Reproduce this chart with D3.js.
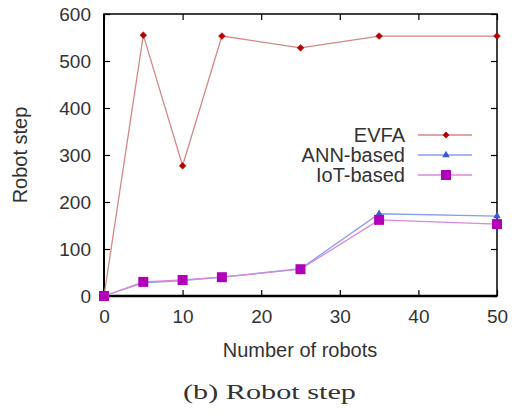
<!DOCTYPE html>
<html><head><meta charset="utf-8">
<script src="https://cdn.jsdelivr.net/npm/d3@7"></script>
<style>body{margin:0;background:#fff}svg{display:block}</style>
</head><body>
<svg id="c" width="513" height="412"></svg>
<script>
const robots = [0, 5, 10, 15, 25, 35, 50];
const evfa = [0, 555, 277, 553, 528, 553, 553];
const ann = [0, 28, 33, 40, 58, 175, 170];
const iot = [0, 30, 34, 40, 57, 162, 153];
const seriesNames = ["EVFA", "ANN-based", "IoT-based"];
const xTicks = [0, 10, 20, 30, 40, 50];
const yTicks = [0, 100, 200, 300, 400, 500, 600];

const svg = d3.select("#c");
const x = d3.scaleLinear().domain([0, 50]).range([104, 497]);
const y = d3.scaleLinear().domain([0, 600]).range([296, 14]);
const font = "'Liberation Sans', Arial, sans-serif";

const styles = [
  {line: "#d48888", mark: "#b40000", shape: d3.symbolDiamond2, size: 30},
  {line: "#8a9cf0", mark: "#3a58d8", shape: d3.symbolTriangle, size: 24},
  {line: "#d88ad8", mark: "#b000b8", shape: d3.symbolSquare, size: 100}
];
const data = [evfa, ann, iot];

// frame
svg.append("rect").attr("x", x(0)).attr("y", y(600)).attr("width", x(50)-x(0)).attr("height", y(0)-y(600))
  .attr("fill", "none").attr("stroke", "#000").attr("stroke-width", 1.5);
svg.append("line").attr("x1", x(0)).attr("x2", x(50)).attr("y1", y(0)).attr("y2", y(0)).attr("stroke", "#000").attr("stroke-width", 2.5);
svg.append("line").attr("x1", x(0)).attr("x2", x(0)).attr("y1", y(0)).attr("y2", y(600)).attr("stroke", "#000").attr("stroke-width", 2);

// axes
const ax = (g) => g.selectAll(".domain").remove();
svg.append("g").attr("transform", `translate(0,${y(0)})`)
  .call(d3.axisBottom(x).tickValues(xTicks).tickSize(-6).tickPadding(14).tickFormat(d3.format("d")))
  .call(ax).call(g => { g.selectAll("line").attr("stroke", "#000").attr("stroke-width", 1.2);
    g.selectAll("text").attr("font-family", font).attr("font-size", 19).attr("fill", "#333"); });
svg.append("g").attr("transform", `translate(0,${y(600)})`)
  .call(d3.axisTop(x).tickValues(xTicks).tickSize(-6).tickFormat(""))
  .call(ax).call(g => g.selectAll("line").attr("stroke", "#000").attr("stroke-width", 1.2));
svg.append("g").attr("transform", `translate(${x(0)},0)`)
  .call(d3.axisLeft(y).tickValues(yTicks).tickSize(-6).tickPadding(13).tickFormat(d3.format("d")))
  .call(ax).call(g => { g.selectAll("line").attr("stroke", "#000").attr("stroke-width", 1.2);
    g.selectAll("text").attr("font-family", font).attr("font-size", 19).attr("fill", "#333"); });
svg.append("g").attr("transform", `translate(${x(50)},0)`)
  .call(d3.axisRight(y).tickValues(yTicks).tickSize(-6).tickFormat(""))
  .call(ax).call(g => g.selectAll("line").attr("stroke", "#000").attr("stroke-width", 1.2));

// lines
const lineGen = d3.line().x((d, i) => x(robots[i])).y(d => y(d));
data.forEach((vals, k) => {
  svg.append("path").datum(vals).attr("d", lineGen).attr("fill", "none")
    .attr("stroke", styles[k].line).attr("stroke-width", 1.3);
});
data.forEach((vals, k) => {
  svg.append("g").selectAll("path").data(vals).join("path")
    .attr("transform", (d, i) => `translate(${x(robots[i])},${y(d)})`)
    .attr("d", d3.symbol().type(styles[k].shape).size(styles[k].size))
    .attr("fill", styles[k].mark).attr("stroke", k === 0 ? styles[k].mark : "none").attr("stroke-width", 0.5);
});

// legend
const legY = [135, 155, 175];
seriesNames.forEach((name, k) => {
  const g = svg.append("g");
  g.append("text").attr("x", 405).attr("y", legY[k]).attr("dy", "0.35em").attr("text-anchor", "end")
    .attr("font-family", font).attr("font-size", 20).attr("fill", "#333").text(name);
  g.append("line").attr("x1", 418).attr("x2", 472).attr("y1", legY[k]).attr("y2", legY[k])
    .attr("stroke", styles[k].line).attr("stroke-width", 1.3);
  g.append("path").attr("transform", `translate(446,${legY[k]})`)
    .attr("d", d3.symbol().type(styles[k].shape).size(styles[k].size)).attr("fill", styles[k].mark);
});

// labels
svg.append("text").attr("x", 300).attr("y", 357).attr("text-anchor", "middle")
  .attr("font-family", font).attr("font-size", 20).attr("fill", "#333").text("Number of robots");
svg.append("text").attr("transform", "translate(27,155) rotate(-90)").attr("text-anchor", "middle")
  .attr("font-family", font).attr("font-size", 20).attr("fill", "#333").text("Robot step");
svg.append("text").attr("x", 183).attr("y", 399)
  .attr("textLength", 173).attr("lengthAdjust", "spacingAndGlyphs")
  .attr("font-family", "'Liberation Serif', 'Times New Roman', serif").attr("font-size", 22).attr("fill", "#333")
  .text("(b)  Robot step");
</script>
</body></html>
